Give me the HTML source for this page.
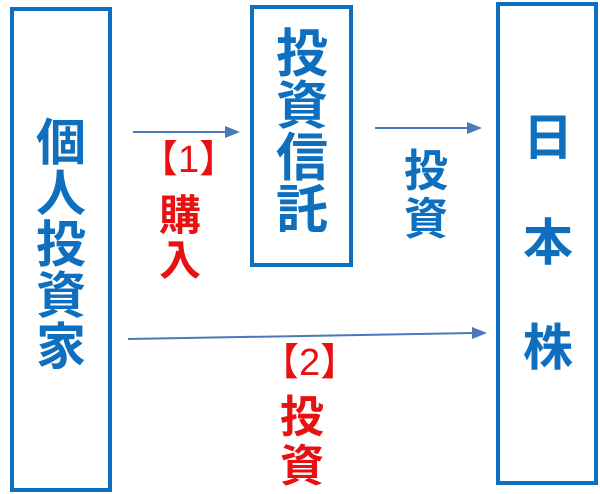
<!DOCTYPE html>
<html><head><meta charset="utf-8"><style>
body{margin:0;width:600px;height:494px;background:#fff;position:relative;overflow:hidden;font-family:"Liberation Sans","Noto Sans CJK JP",sans-serif;font-weight:bold}
.box{position:absolute;border:4px solid #0E6FBE;box-sizing:border-box}
.t{position:absolute;text-align:center;line-height:1;color:#0E6FBE}
.r{color:#E81010}
</style></head><body>
<div class="box" style="left:10px;top:7px;width:102px;height:485px"></div>
<div class="box" style="left:250px;top:5px;width:103px;height:262px"></div>
<div class="box" style="left:496px;top:2px;width:102px;height:483px"></div>

<div class="t" style="left:34px;top:118px;width:54px;font-size:50px;line-height:51px">個<br>人<br>投<br>資<br>家</div>
<div class="t" style="left:274px;top:29px;width:56px;font-size:52px;line-height:52px">投<br>資<br>信<br>託</div>
<div class="t" style="left:521px;top:86px;width:54px;font-size:50px;line-height:105px">日<br>本<br>株</div>

<div class="t" style="left:402px;top:148px;width:48px;font-size:44px;line-height:48px">投<br>資</div>
<div class="t r" style="left:140px;top:141px;width:82px;font-size:38px;font-weight:normal">【1】</div>
<div class="t r" style="left:158px;top:193px;width:44px;font-size:42px;line-height:45px">購<br>入</div>
<div class="t r" style="left:261px;top:344px;width:82px;font-size:38px;font-weight:normal">【2】</div>
<div class="t r" style="left:279px;top:393px;width:46px;font-size:44px;line-height:49px">投<br>資</div>

<svg width="600" height="494" style="position:absolute;left:0;top:0">
<g stroke="#4A78B8" stroke-width="2" fill="#4A78B8">
<line x1="133" y1="132" x2="228" y2="132"/><polygon points="240,132 225,126 225,138" stroke="none"/>
<line x1="375" y1="128" x2="470" y2="128"/><polygon points="482,128 467,122 467,134" stroke="none"/>
<line x1="128" y1="339" x2="474" y2="333"/><polygon points="487,333 472,327 472,339" stroke="none"/>
</g></svg>
</body></html>
